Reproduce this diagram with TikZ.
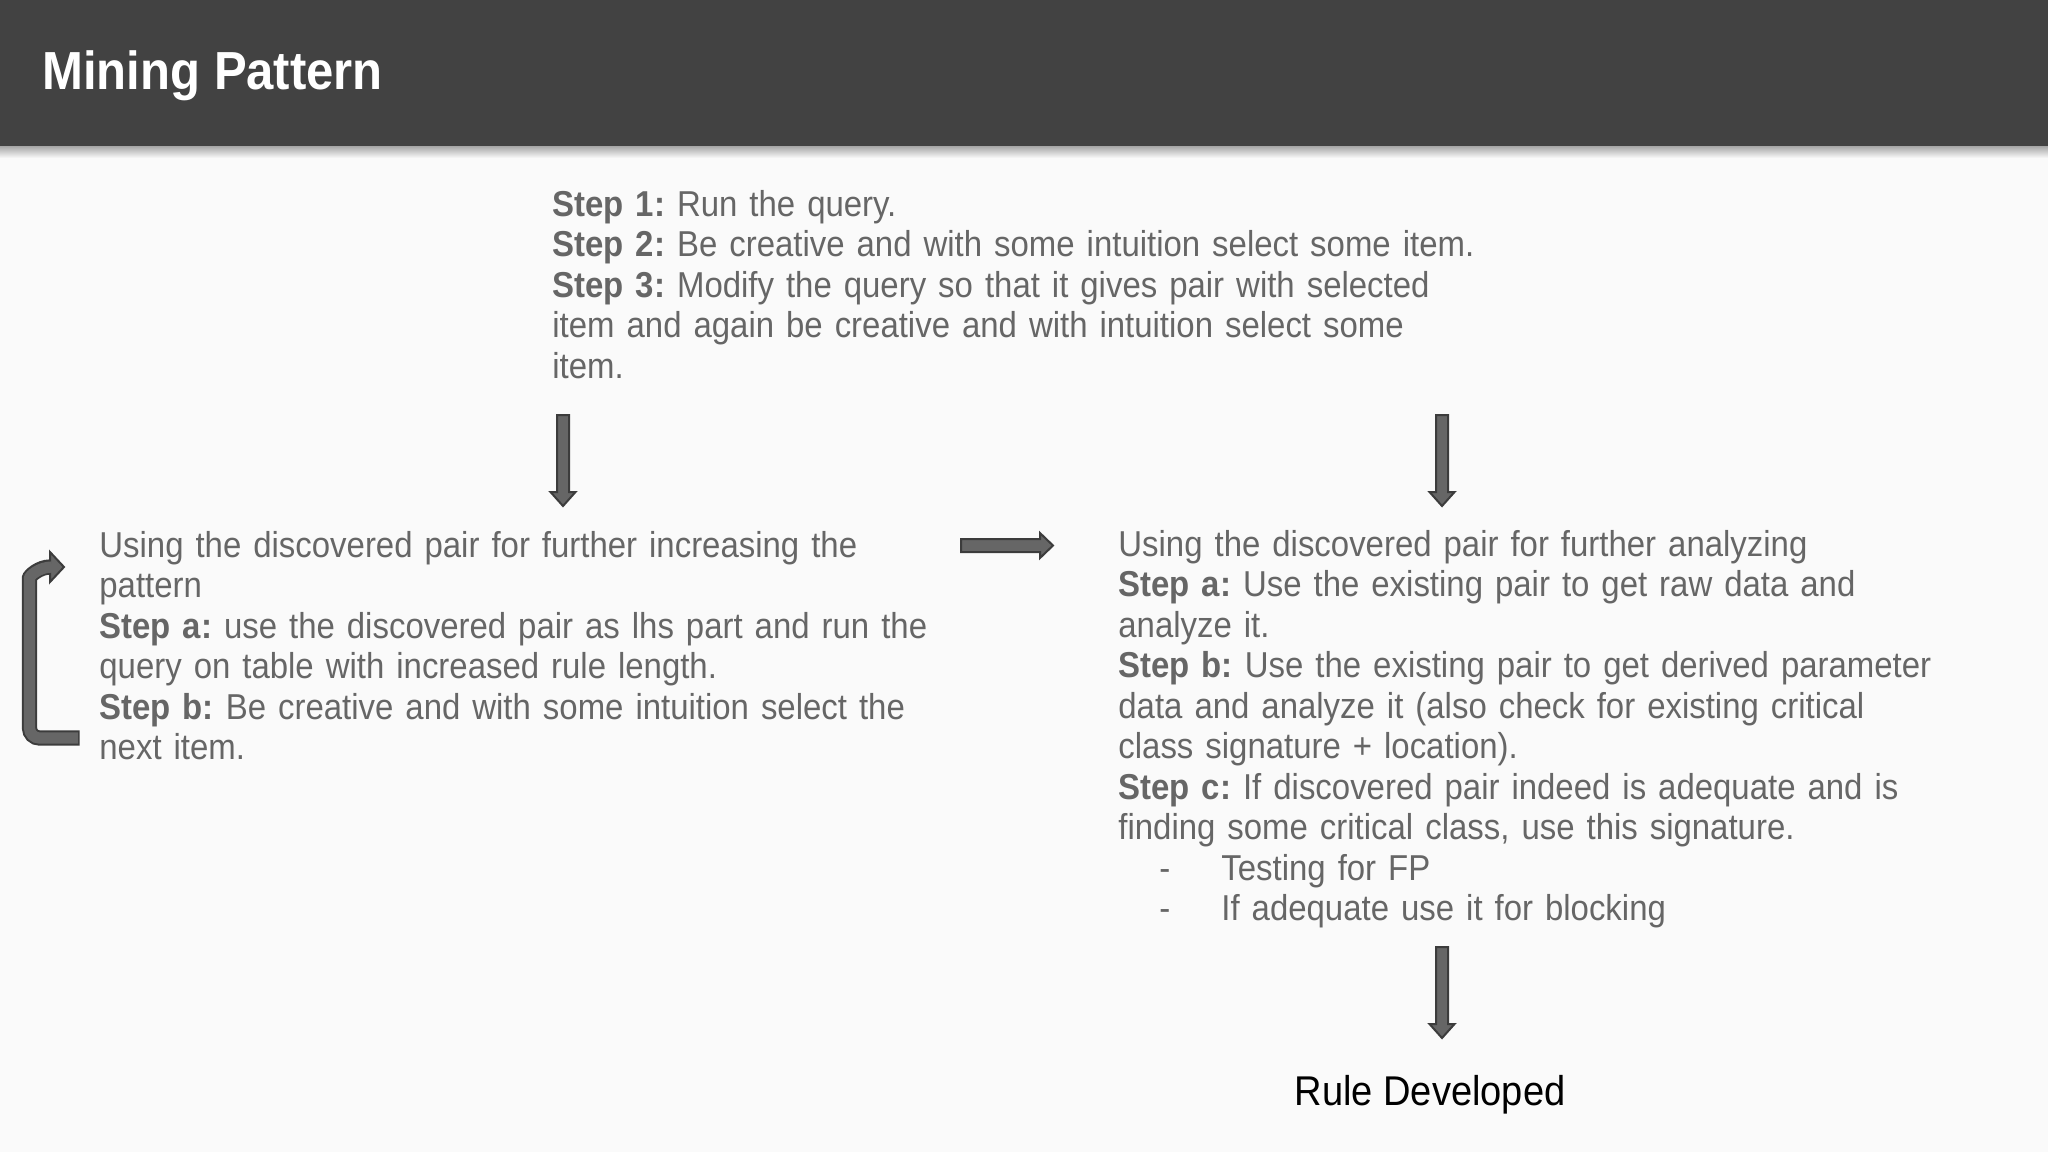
\documentclass[tikz,border=0pt]{standalone}
\usepackage{fontspec}
\setmainfont{Liberation Sans}[FakeStretch=0.915]
\usetikzlibrary{calc}
\definecolor{bg}{HTML}{FAFAFA}
\definecolor{bar}{HTML}{424242}
\definecolor{txt}{HTML}{666666}
\definecolor{arrfill}{HTML}{666666}
\definecolor{arrline}{HTML}{3C3C3C}
\frenchspacing
\tikzset{
  body/.style={anchor=base west, inner sep=0pt, text width=900pt, align=left, text=txt,
    font=\fontsize{18}{20.25}\selectfont},
  blockarrow/.style={fill=arrfill, draw=arrline, line width=1pt, line join=miter},
  loopout/.style={draw=arrline, line width=7.6pt},
  loopin/.style={draw=arrfill, line width=5.6pt},
}
\newcommand{\downblock}[2]{%
  \draw[blockarrow] ($(#1)+(-6,0)$) -- ($(#2)+(-6,-14)$) -- ($(#2)+(-12.5,-14)$) -- (#2)
    -- ($(#2)+(12.5,-14)$) -- ($(#2)+(6,-14)$) -- ($(#1)+(6,0)$) -- cycle;}
\newcommand{\rightblock}[2]{%
  \draw[blockarrow] ($(#1)+(0,-6.5)$) -- ($(#2)+(-13,-6.5)$) -- ($(#2)+(-13,-12.5)$) -- (#2)
    -- ($(#2)+(-13,12.5)$) -- ($(#2)+(-13,6.5)$) -- ($(#1)+(0,6.5)$) -- cycle;}
\begin{document}
\begin{tikzpicture}[x=0.5pt, y=-0.5pt]
  \useasboundingbox (0,0) rectangle (2048,1152);
  \fill[bg] (0,0) rectangle (2048,1152);
  % title bar
  \shade[top color=black!35, bottom color=bg] (0,146) rectangle (2048,158);
  \fill[bar] (0,0) rectangle (2048,146);
  \node[anchor=base west, inner sep=0pt, text=white, font=\fontsize{26.8}{30}\selectfont\bfseries]
    (title) at (42,89) {Mining Pattern};

  % text blocks
  \node[body] (top) at (552,216) {%
    \textbf{Step 1:} Run the query.\\
    \textbf{Step 2:} Be creative and with some intuition select some item.\\
    \textbf{Step 3:} Modify the query so that it gives pair with selected\\
    item and again be creative and with intuition select some\\
    item.};
  \node[body] (left) at (99,557) {%
    Using the discovered pair for further increasing the\\
    pattern\\
    \textbf{Step a:} use the discovered pair as lhs part and run the\\
    query on table with increased rule length.\\
    \textbf{Step b:} Be creative and with some intuition select the\\
    next item.};
  \node[body] (right) at (1118,556) {%
    Using the discovered pair for further analyzing\\
    \textbf{Step a:} Use the existing pair to get raw data and\\
    analyze it.\\
    \textbf{Step b:} Use the existing pair to get derived parameter\\
    data and analyze it (also check for existing critical\\
    class signature + location).\\
    \textbf{Step c:} If discovered pair indeed is adequate and is\\
    finding some critical class, use this signature.\\
    \hspace*{20.5pt}\makebox[31pt][l]{-}Testing for FP\\
    \hspace*{20.5pt}\makebox[31pt][l]{-}If adequate use it for blocking};
  \node[anchor=base, inner sep=0pt, text=black, font=\fontsize{20.8}{24}\selectfont]
    (rule) at (1430,1105) {Rule Developed};

  % connector coordinates
  \coordinate (d1s) at (563,415);  \coordinate (d1e) at (563,506);
  \coordinate (d2s) at (1442,415); \coordinate (d2e) at (1442,506);
  \coordinate (d3s) at (1442,947); \coordinate (d3e) at (1442,1038);
  \coordinate (rs) at (961,545.5); \coordinate (re) at (1053,545.5);
  \downblock{d1s}{d1e}
  \downblock{d2s}{d2e}
  \downblock{d3s}{d3e}
  \rightblock{rs}{re}

  % loop arrow
  \coordinate (ls) at (79.5,738);
  \coordinate (lc) at (29.5,588);
  \coordinate (lh) at (50,567);
  \draw[loopout, rounded corners=5pt] (ls) -| (lc) [sharp corners] .. controls (29.5,576) and (39,567) .. (lh);
  \draw[blockarrow] (50,552) -- (64,567) -- (50,582) -- cycle;
  \draw[loopin, rounded corners=5pt] (78,738) -| (lc) [sharp corners] .. controls (29.5,576) and (39,567) .. (52,567);
\end{tikzpicture}
\end{document}
